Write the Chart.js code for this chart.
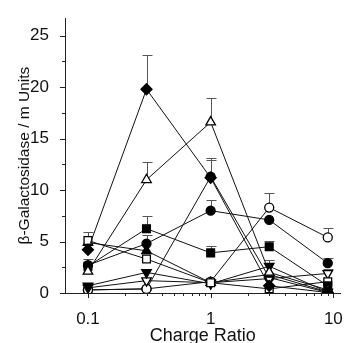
<!DOCTYPE html>
<html>
<head>
<meta charset="utf-8">
<script src="https://cdn.jsdelivr.net/npm/chart.js@4.4.0/dist/chart.umd.min.js"></script>
<style>
  html, body { margin: 0; padding: 0; background: #fff; }
  #wrap { width: 351px; height: 343px; }
</style>
</head>
<body>
<div id="wrap"><canvas id="grafico"></canvas></div>
<script>
// valores
const chargeRatio = [0.1, 0.3, 1, 3, 9];
const xTickLabels = [0.1, 1, 10];
const yTickLabels = [0, 5, 10, 15, 20, 25];

const diamanteCheio = [4.2, 19.8, 11.2, 0.7, 0.05];
const diamanteCheioErr = [null, 23.1, 12.9, null, null];
const trianguloAberto = [2.1, 11.0, 16.6, 2.0, 0.3];
const trianguloAbertoErr = [null, 12.7, 18.9, null, null];
const circuloCheioA = [2.7, 4.8, 8.0, 7.1, 2.9];
const circuloCheioAErr = [3.3, 5.6, 9.0, null, 3.4];
const quadradoCheio = [2.6, 6.25, 3.9, 4.5, 0.7];
const quadradoCheioErr = [null, 7.5, 4.6, 5.1, null];
const quadradoAberto = [5.1, 3.3, 1.0, 0.4, 1.1];
const quadradoAbertoErr = [5.9, null, null, null, null];
const trianguloCheio = [4.9, 4.1, 1.0, 1.8, 0.1];
const trianguloCheioErr = [null, null, null, null, null];
const invertidoCheio = [0.7, 2.0, 0.9, 2.6, 0.1];
const invertidoCheioErr = [1.0, null, null, 3.2, null];
const invertidoAberto = [0.5, 1.2, 1.0, 1.4, 1.9];
const invertidoAbertoErr = [null, null, null, null, 2.3];
const circuloAberto = [0.3, 0.4, 1.1, 8.3, 5.4];
const circuloAbertoErr = [null, null, null, 9.7, 6.3];
const circuloCheioB = [0.3, 0.4, 11.3, 1.5, 0.05];
const circuloCheioBErr = [null, null, 13.1, null, null];

const fonte = "Liberation Sans, Arial, sans-serif";

function serie(valores, erros, estilo, cheio, raio, rotacao) {
    return {
        data: valores.map((v, i) => ({ x: chargeRatio[i], y: v })),
        erros: erros,
        borderColor: "#111",
        borderWidth: 1,
        pointStyle: estilo,
        pointRadius: raio,
        pointRotation: rotacao || 0,
        pointBorderWidth: 1.3,
        pointBorderColor: "#000",
        pointBackgroundColor: cheio ? "#000" : "#fff",
        tension: 0,
        fill: false,
    };
}

// a primeira série fica por cima; a última, por baixo
const datasets = [
    serie(diamanteCheio, diamanteCheioErr, "rectRot", true, 5.5),
    serie(trianguloAberto, trianguloAbertoErr, "triangle", false, 5.5),
    serie(circuloCheioA, circuloCheioAErr, "circle", true, 4.5),
    serie(quadradoCheio, quadradoCheioErr, "rect", true, 5.5),
    serie(quadradoAberto, quadradoAbertoErr, "rect", false, 5.5),
    serie(trianguloCheio, trianguloCheioErr, "triangle", true, 5.5),
    serie(invertidoCheio, invertidoCheioErr, "triangle", true, 5.5, 180),
    serie(invertidoAberto, invertidoAbertoErr, "triangle", false, 5.5, 180),
    serie(circuloAberto, circuloAbertoErr, "circle", false, 4.5),
    serie(circuloCheioB, circuloCheioBErr, "circle", true, 4.5),
];

// barras de erro (só para cima)
const barrasErro = {
    id: "barrasErro",
    beforeDatasetsDraw(chart) {
        const ctx = chart.ctx;
        const x = chart.scales.x, y = chart.scales.y;
        ctx.save();
        ctx.strokeStyle = "#555";
        ctx.lineWidth = 1;
        chart.data.datasets.forEach(ds => {
            ds.erros.forEach((e, i) => {
                if (e == null) return;
                const px = Math.round(x.getPixelForValue(ds.data[i].x)) + 0.5;
                const p0 = y.getPixelForValue(ds.data[i].y);
                const p1 = Math.round(y.getPixelForValue(e)) + 0.5;
                ctx.beginPath();
                ctx.moveTo(px, p0);
                ctx.lineTo(px, p1);
                ctx.moveTo(px - 5, p1);
                ctx.lineTo(px + 5, p1);
                ctx.stroke();
            });
        });
        ctx.restore();
    }
};

// marcas dos eixos, maiores e menores
const marcasEixos = {
    id: "marcasEixos",
    afterDraw(chart) {
        const ctx = chart.ctx;
        const x = chart.scales.x, y = chart.scales.y;
        const area = chart.chartArea;
        ctx.save();
        ctx.strokeStyle = "#222";
        ctx.lineWidth = 1;
        ctx.beginPath();
        for (let d = 0.1; d < 11; d *= 10) {
            for (let m = 1; m <= 9; m++) {
                const v = d * m;
                if (v > x.max) break;
                const px = Math.round(x.getPixelForValue(v)) + 0.5;
                const len = m === 1 ? 5 : 3;
                ctx.moveTo(px, area.bottom);
                ctx.lineTo(px, area.bottom + len);
            }
        }
        for (let v = 0; v <= 25; v += 2.5) {
            const py = Math.round(y.getPixelForValue(v)) + 0.5;
            const len = v % 5 === 0 ? 5 : 3;
            ctx.moveTo(area.left, py);
            ctx.lineTo(area.left - len, py);
        }
        ctx.stroke();
        ctx.restore();
    }
};

new Chart(document.getElementById("grafico"), {
    type: "line",
    data: { datasets: datasets },
    plugins: [barrasErro, marcasEixos],
    options: {
        responsive: true,
        maintainAspectRatio: false,
        devicePixelRatio: 1,
        animation: false,
        layout: { padding: { top: 15, right: 6, left: 0, bottom: 0 } },
        plugins: {
            legend: { display: false },
            tooltip: { enabled: false },
        },
        scales: {
            x: {
                type: "logarithmic",
                min: 0.065,
                max: 11.4,
                afterBuildTicks: s => { s.ticks = xTickLabels.map(v => ({ value: v })); },
                afterFit: s => { s.height = 50; },
                grid: { display: false },
                border: { display: true, color: "#222", width: 1 },
                ticks: {
                    color: "#111",
                    font: { family: fonte, size: 17 },
                    padding: 8,
                    maxRotation: 0,
                    autoSkip: false,
                    callback: v => String(v),
                },
                title: {
                    display: true,
                    text: "Charge Ratio",
                    color: "#111",
                    font: { family: fonte, size: 18, lineHeight: 1 },
                    padding: { top: 0, bottom: -2 },
                },
            },
            y: {
                type: "linear",
                min: 0,
                max: 26.7,
                afterBuildTicks: s => { s.ticks = yTickLabels.map(v => ({ value: v })); },
                afterFit: s => { s.width = 65; },
                grid: { display: false },
                border: { display: true, color: "#222", width: 1 },
                ticks: {
                    color: "#111",
                    font: { family: fonte, size: 17 },
                    padding: 8,
                },
                title: {
                    display: true,
                    text: "β-Galactosidase / m Units",
                    color: "#111",
                    font: { family: fonte, size: 15.5, lineHeight: 1 },
                    padding: { top: 17, bottom: 0 },
                },
            },
        },
    },
});
</script>
</body>
</html>
